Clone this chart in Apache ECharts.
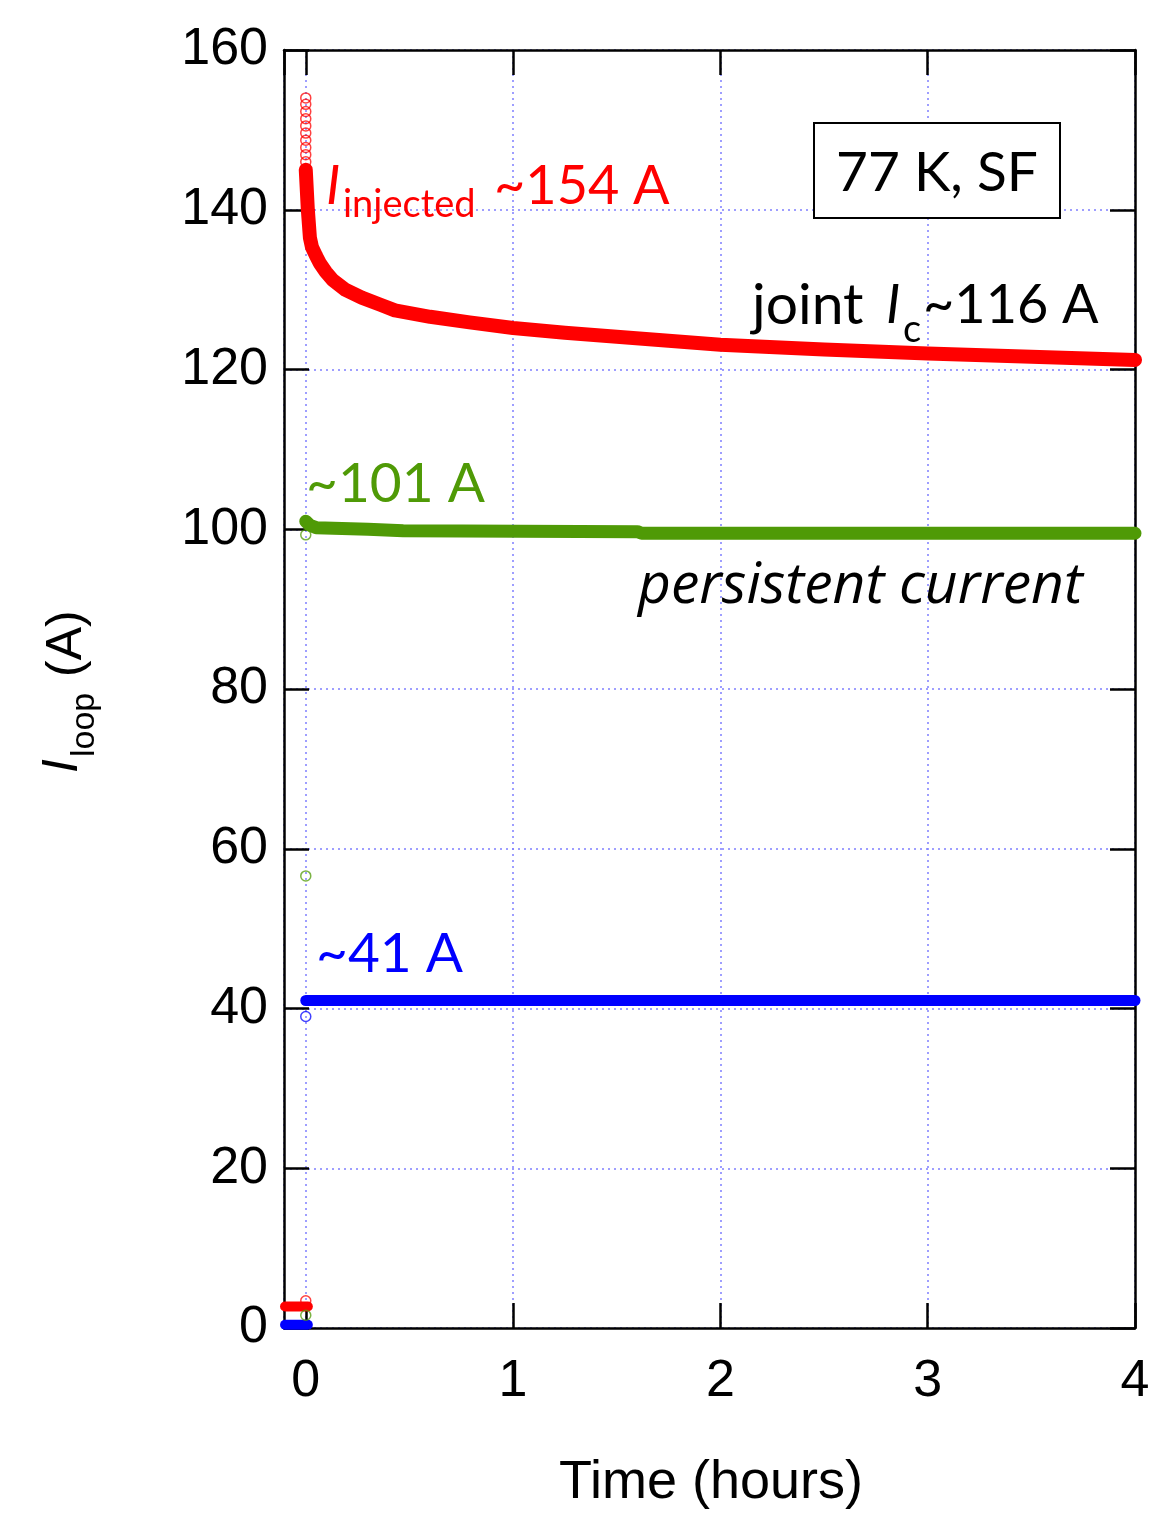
<!DOCTYPE html>
<html>
<head>
<meta charset="utf-8">
<script src="https://cdn.jsdelivr.net/npm/echarts@6/dist/echarts.min.js"></script>
<style>
  html, body { margin: 0; padding: 0; background: #ffffff; }
  #chart { width: 1170px; height: 1527px; }
</style>
</head>
<body>
<div id="chart"></div>
<script>
// Loop current decay after injection at 77 K, self field (time in hours, current in A)

// Injected current: relaxation from the injection peak towards the joint Ic
const redTime = [0, 0.01, 0.02, 0.03, 0.05, 0.068, 0.097, 0.13, 0.19, 0.27, 0.36, 0.43, 0.6, 0.79, 1.0, 1.25, 1.5, 1.75, 2.0, 2.5, 3.0, 3.5, 4.0];
const redCurrent = [145, 140, 136.5, 135.3, 134.2, 133.3, 132.2, 131.2, 130.0, 129.0, 128.1, 127.4, 126.6, 125.9, 125.2, 124.6, 124.1, 123.6, 123.1, 122.5, 122.0, 121.6, 121.2];
// Ramp-up samples recorded at t = 0
const redRampCurrent = [154, 153.2, 152.3, 151.4, 150.5, 149.6, 148.7, 147.8, 146.9, 146.0, 3.4];
// Offset before the ramp
const redPreTime = [-0.1, 0.01];
const redPreCurrent = [2.7, 2.7];

// Persistent current after injection of ~101 A
const greenTime = [0, 0.02, 0.05, 0.3, 0.47, 1.6, 1.62, 4.0];
const greenCurrent = [101.0, 100.5, 100.2, 100.0, 99.8, 99.7, 99.5, 99.5];
const greenRampCurrent = [99.3, 56.6, 1.6];

// Persistent current after injection of ~41 A
const blueTime = [0, 4.0];
const blueCurrent = [41.0, 41.0];
const blueRampCurrent = [39.0];
const bluePreTime = [-0.1, 0.01];
const bluePreCurrent = [0.4, 0.4];

// Axis ranges
const timeMin = -0.105, timeMax = 4;
const currentMin = 0, currentMax = 160, currentStep = 20;

const RED = '#ff0000', GREEN = '#4f9a06', BLUE = '#0000ff';

const zip = (xs, ys) => xs.map((x, i) => [x, ys[i]]);
const atZero = ys => ys.map(y => [0, y]);

const chart = echarts.init(document.getElementById('chart'), null, { renderer: 'canvas' });

const tickFont = 'Liberation Sans, Arial, sans-serif';
const annFont = 'Lato, "Open Sans", sans-serif';

const axisLineStyle = { color: '#000', width: 2.5 };
const tickStyle = { show: true, inside: true, length: 25, lineStyle: { color: '#000', width: 2.5 } };
const gridLine = { show: true, lineStyle: { color: '#7f7fff', width: 1.5, type: [2, 4] } };

function lineSeries(data, color, width) {
  return {
    type: 'line', data, symbol: 'none', z: 3, smooth: false,
    clip: false, animation: false,
    lineStyle: { color, width, cap: 'round', join: 'round' }
  };
}
function ringSeries(data, color) {
  return {
    type: 'scatter', data, symbol: 'circle', symbolSize: 10, z: 4, animation: false,
    itemStyle: { color: 'rgba(255,255,255,0)', borderColor: color, borderWidth: 1.5, opacity: 0.75 }
  };
}

const option = {
  backgroundColor: '#ffffff',
  animation: false,
  grid: { left: 284, right: 35, top: 50, bottom: 199, containLabel: false },
  xAxis: [{
    type: 'value', min: timeMin, max: timeMax, minInterval: 1, maxInterval: 1,
    axisLine: { show: true, onZero: false, lineStyle: axisLineStyle },
    axisTick: tickStyle, splitLine: gridLine,
    axisLabel: { show: true, showMinLabel: false, margin: 28, fontSize: 52, color: '#000', fontFamily: tickFont }
  }, {
    type: 'value', position: 'top', min: timeMin, max: timeMax, minInterval: 1, maxInterval: 1,
    axisLine: { show: true, onZero: false, lineStyle: axisLineStyle },
    axisTick: tickStyle, splitLine: { show: false }, axisLabel: { show: false }
  }],
  yAxis: [{
    type: 'value', min: currentMin, max: currentMax, interval: currentStep,
    axisLine: { show: true, onZero: false, lineStyle: axisLineStyle },
    axisTick: tickStyle, splitLine: gridLine,
    axisLabel: { margin: 16, fontSize: 52, color: '#000', fontFamily: tickFont }
  }, {
    type: 'value', position: 'right', min: currentMin, max: currentMax, interval: currentStep,
    axisLine: { show: true, onZero: false, lineStyle: axisLineStyle },
    axisTick: tickStyle, splitLine: { show: false }, axisLabel: { show: false }
  }],
  series: [
    lineSeries(zip(redPreTime, redPreCurrent), RED, 10),
    lineSeries(zip(bluePreTime, bluePreCurrent), BLUE, 10),
    lineSeries(zip(redTime, redCurrent), RED, 14),
    lineSeries(zip(greenTime, greenCurrent), GREEN, 13),
    lineSeries(zip(blueTime, blueCurrent), BLUE, 11),
    ringSeries(atZero(redRampCurrent), RED),
    ringSeries(atZero(greenRampCurrent), GREEN),
    ringSeries(atZero(blueRampCurrent), BLUE)
  ],
  graphic: [
    // y axis title, rotated
    {
      type: 'group', x: 63, y: 773, rotation: Math.PI / 2,
      children: [
        { type: 'text', x: 0, y: 0, style: { text: 'I', font: 'italic 50px ' + tickFont, fill: '#000', align: 'left', verticalAlign: 'middle' } },
        { type: 'text', x: 16, y: 22, style: { text: 'loop', font: '34px ' + tickFont, fill: '#000', align: 'left', verticalAlign: 'middle' } },
        { type: 'text', x: 96, y: 4, style: { text: '(A)', font: '50px ' + tickFont, fill: '#000', align: 'left', verticalAlign: 'middle' } }
      ]
    },
    // x axis title
    { type: 'text', x: 711, y: 1483, style: { text: 'Time (hours)', font: '54px ' + tickFont, fill: '#000', align: 'center', verticalAlign: 'middle' } },

    // condition box
    { type: 'rect', shape: { x: 814, y: 123, width: 246, height: 95 }, style: { fill: '#fff', stroke: '#000', lineWidth: 2 }, z: 10 },
    { type: 'text', x: 836, y: 173, z: 11, style: { text: '77 K, SF', font: '55px ' + annFont, fill: '#000', align: 'left', verticalAlign: 'middle' } },

    // injected current label
    { type: 'text', x: 326, y: 187, z: 11, style: { text: 'I', font: 'italic 54px ' + annFont, fill: RED, align: 'left', verticalAlign: 'middle' } },
    { type: 'text', x: 343, y: 205, z: 11, style: { text: 'injected', font: '38px ' + annFont, fill: RED, align: 'left', verticalAlign: 'middle' } },
    { type: 'text', x: 494, y: 187, z: 11, style: { text: '~154 A', font: '54px ' + annFont, fill: RED, align: 'left', verticalAlign: 'middle' } },

    // joint critical current label
    { type: 'text', x: 752, y: 306, z: 11, style: { text: 'joint', font: '57px ' + annFont, fill: '#000', align: 'left', verticalAlign: 'middle' } },
    { type: 'text', x: 886, y: 306, z: 11, style: { text: 'I', font: 'italic 54px ' + annFont, fill: '#000', align: 'left', verticalAlign: 'middle' } },
    { type: 'text', x: 903, y: 330, z: 11, style: { text: 'c', font: '38px ' + annFont, fill: '#000', align: 'left', verticalAlign: 'middle' } },
    { type: 'text', x: 923, y: 306, z: 11, style: { text: '~116 A', font: '54px ' + annFont, fill: '#000', align: 'left', verticalAlign: 'middle' } },

    // persistent current labels
    { type: 'text', x: 306, y: 484, z: 11, style: { text: '~101 A', font: '55px ' + annFont, fill: GREEN, align: 'left', verticalAlign: 'middle' } },
    { type: 'text', x: 638, y: 587, z: 11, style: { text: 'persistent current', font: 'italic 57px "Open Sans", Lato, sans-serif', fill: '#000', align: 'left', verticalAlign: 'middle' } },
    { type: 'text', x: 316, y: 954, z: 11, style: { text: '~41 A', font: '55px ' + annFont, fill: BLUE, align: 'left', verticalAlign: 'middle' } }
  ]
};

chart.setOption(option);
</script>
</body>
</html>
